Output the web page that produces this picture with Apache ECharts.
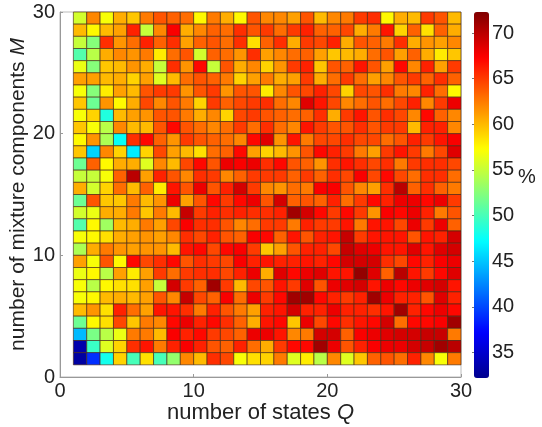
<!DOCTYPE html>
<html><head><meta charset="utf-8">
<style>html,body{margin:0;padding:0;background:#fff}#c{width:542px;height:427px}</style>
<script src="https://cdn.jsdelivr.net/npm/echarts@6/dist/echarts.min.js"></script>
</head><body><div id="c"></div>
<script>
// Cell values in %, rows listed from M=29 (top) down to M=1; columns Q=1..29
const rowM29=[55.5,62,57,60.5,59.5,62.5,64,63.5,63,57.5,62.5,60.5,57.5,64,62,62,61,64,60,62,62.5,65,65.5,57.5,60.5,60,65,64,60];
const rowM28=[60,57.5,60,61,66,55,62,67.5,60.5,62,63.5,63,65.5,64,65,63,65,66,63.5,63.5,64.5,60.5,62.5,66.5,59,63.5,58.5,63.5,60.5];
const rowM27=[55,52.5,65.5,61.5,63,66,63.5,65.5,61,63.5,64,63,65.5,58.5,63.5,65.5,60.5,65,64.5,66,60.5,64,63.5,62.5,65.5,60.5,61.5,61,62];
const rowM26=[50.5,54.5,60.5,62,61.5,62.5,58,63,64,55.5,63.5,63,61.5,65.5,61,62,63,63.5,61,59.5,60,60.5,63,64,61,63.5,60.5,58,59.5];
const rowM25=[56.5,52.5,59.5,60,61.5,60.5,55,65.5,61.5,67,55,64,60.5,62,59,61.5,65,66,59.5,64,63.5,66.5,64,61,67,62,66,61,65];
const rowM24=[61,61,60,60.5,59,61,56,60,63,64,63.5,62.5,59,61,62.5,60.5,61,65,60.5,63,65,63,61,62,64,65,63.5,65.5,63.5];
const rowM23=[57,52.5,58,61,60,64,65,65,61.5,64,65,61.5,64,64,58,62,64,64.5,66,64.5,59,64.5,64,65.5,62.5,62,66,63,57.5];
const rowM22=[59.5,51.5,61.5,57.5,60.5,64.5,62,64,62.5,59,65,63.5,64.5,65,65.5,63,62,68.5,66.5,64.5,62,63,64,63,64.5,66,62,65,68];
const rowM21=[57,59,48.5,60,61,61.5,64,64,62.5,60.5,62,59,64.5,65,64,63.5,63,63.5,65.5,60.5,65,66.5,64,65.5,64.5,62,67,63.5,62];
const rowM20=[59.5,57,54.5,62,60,60,64,67,64,63,62,63,65,63,65.5,63,62,66.5,65,64,64,65.5,64,65,65,60,66,66,62];
const rowM19=[57.5,61.5,54,47.5,65.5,67,63.5,61.5,65,64,63.5,63,62,67,68.5,61.5,66.5,62.5,64.5,64.5,65.5,64.5,64.5,63,64,66,65,66.5,67.5];
const rowM18=[59.5,45.5,62,59,46.5,59,64.5,61,60,58.5,63,63.5,67,61,59,60,61.5,64,67,66,65,62.5,61,65,66.5,65,62.5,64.5,68.5];
const rowM17=[51.5,63.5,57.5,60.5,60.5,56,62,60,64.5,67,64,68,67.5,68,65.5,67,64,63.5,61.5,65.5,66.5,65.5,64.5,65.5,62.5,65,65.5,65.5,64.5];
const rowM16=[55,55,57,63.5,70,61,66,64,62,65.5,65,62,63.5,65,65,65,63.5,65,63.5,65.5,64.5,67.5,64.5,67,64.5,63,65.5,65.5,63];
const rowM15=[60.5,55.5,59,63,60,63.5,58,66.5,64,68,64,66,69,65,62,61.5,63,62.5,67.5,67.5,64,62,61,65.5,70,63.5,65.5,63.5,62.5];
const rowM14=[51.5,64,59.5,59.5,62.5,60,61.5,68,61,64,67,65,67,68,64,69,63.5,64,63.5,66,63,65,67,66,68,68,67,68,65];
const rowM13=[55.5,56.5,60.5,60.5,62.5,59.5,62.5,60,69.5,65,66,65.5,66,65.5,65.5,66,71,69,67,65,67,65,61.5,67.5,67,68,66,62.5,64];
const rowM12=[50.5,57.5,53.5,60,60.5,62.5,61,64.5,67.5,65.5,65.5,64,62,63,65,65,62.5,66,65,65,66.5,62.5,66.5,66.5,64.5,68,65,68,63.5];
const rowM11=[57,57.5,58.5,60.5,61,61.5,61,62,65.5,64.5,66,64,63.5,67.5,67,63.5,66.5,64,66,66.5,69.5,65,66.5,66.5,66.5,64,66.5,66,69];
const rowM10=[54,60.5,62.5,61.5,61,61.5,61.5,60,66.5,67,64.5,67,67.5,65,59.5,61,64,66,66,64.5,69.5,68.5,68,66.5,66.5,68.5,66.5,68.5,69];
const rowM9=[61,57,64,57.5,67,64.5,65.5,67,64,65.5,65,64.5,67.5,66,66.5,66,66,66.5,66,67,69,69,69,65.5,64.5,67,66,67.5,68];
const rowM8=[56.5,57.5,54.5,61,58,61,65,63,65,65.5,65.5,64.5,66,68,60.5,68.5,67,68,68.5,66.5,66.5,71.5,68.5,63.5,70,66.5,65,67,68.5];
const rowM7=[57,54.5,57.5,58.5,58.5,61,55,69,65,63.5,71,65,60,64.5,64,66.5,65,68.5,64,68,68.5,69,66.5,68,67,68,68.5,69,66.5];
const rowM6=[57,57.5,60,60.5,60,61,64,62,69.5,64.5,63.5,67.5,63,68,65,67,71,71,67,66,65,66,71,68,66,66,64,68.5,66];
const rowM5=[60,61.5,58.5,66,63,61,66.5,66.5,65.5,62.5,66,64,62.5,61,66,66.5,69,66,66,68,66,66,65.5,66.5,71,66,67,68,67];
const rowM4=[51.5,57.5,58.5,64.5,59.5,62.5,62,67,68,66,67,65.5,63.5,60.5,66.5,67,59.5,68,64.5,67,65.5,66.5,67,69,63,67,67,67.5,71];
const rowM3=[44.5,52,54.5,56.5,62.5,62.5,60,67.5,66,67,65,64.5,63.5,68,68,66.5,62,62.5,69,69,63.5,67.5,68,68.5,69,69,69.5,69.5,62.5];
const rowM2=[33.5,49.5,56,59,65.5,66.5,62.5,66,67.5,66,64,63.5,66,63,60.5,65,67,67,71,68,64,66,67.5,68,68,69,69.5,71,70];
const rowM1=[33,39,48,59,50,58.5,50,53,62,60,65.5,64.5,57,58.5,59,62.5,56,58,54.5,62,56,59.5,63.5,64,63,66,62,57,62.5];
const rowsTopDown=[rowM29,rowM28,rowM27,rowM26,rowM25,rowM24,rowM23,rowM22,rowM21,rowM20,rowM19,rowM18,rowM17,rowM16,rowM15,rowM14,rowM13,rowM12,rowM11,rowM10,rowM9,rowM8,rowM7,rowM6,rowM5,rowM4,rowM3,rowM2,rowM1];
const colorbarTicks=[35,40,45,50,55,60,65,70];
const jetColors=['#00008f','#0000ff','#0080ff','#00ffff','#80ff80','#ffff00','#ff8000','#ff0000','#800000'];

const cells=[];
rowsTopDown.forEach((row,r)=>row.forEach((v,c)=>cells.push([c+1,29-r,v])));
const font='"Liberation Sans",Arial,sans-serif', ink='#222';
const chart=echarts.init(document.getElementById('c'),null,{renderer:'canvas'});
chart.setOption({
  animation:false,
  backgroundColor:'#fff',
  grid:[
    {left:60,right:81,top:12,bottom:50,show:true,borderColor:'#bbb',borderWidth:1,backgroundColor:'transparent',outerBoundsMode:'none'},
    {left:474,width:15,top:12,height:366,show:false,outerBoundsMode:'none'}
  ],
  xAxis:[
    {gridIndex:0,type:'value',min:0,max:30,interval:10,
     axisLine:{show:true,lineStyle:{color:'#999',width:1}},
     axisTick:{show:true,inside:true,length:3,lineStyle:{color:'#999'}},
     splitLine:{show:false},
     axisLabel:{color:ink,fontFamily:font,fontSize:20,margin:4},
     name:'number of states {i|Q}',nameLocation:'middle',nameGap:25,nameMoveOverlap:false,
     nameTextStyle:{color:ink,fontFamily:font,fontSize:22,rich:{i:{fontStyle:'italic',fontFamily:font,fontSize:22,color:ink}}}},
    {gridIndex:1,type:'value',min:0,max:1,show:false}
  ],
  yAxis:[
    {gridIndex:0,type:'value',min:0,max:30,interval:10,
     axisLine:{show:true,lineStyle:{color:'#999',width:1}},
     axisTick:{show:true,inside:true,length:3,lineStyle:{color:'#999'}},
     splitLine:{show:false},
     axisLabel:{color:ink,fontFamily:font,fontSize:20,margin:5},
     name:'number of mixture components {i|M}',nameLocation:'middle',nameGap:31,nameMoveOverlap:false,
     nameTextStyle:{color:ink,fontFamily:font,fontSize:21,rich:{i:{fontStyle:'italic',fontFamily:font,fontSize:21,color:ink}}}},
    {gridIndex:1,type:'value',min:32.2,max:72.3,position:'right',
     axisLine:{show:false},
     axisTick:{show:true,inside:true,length:2,lineStyle:{color:'#777'},customValues:colorbarTicks},
     splitLine:{show:false},
     axisLabel:{color:ink,fontFamily:font,fontSize:20,margin:3,customValues:colorbarTicks}}
  ],
  visualMap:{type:'continuous',min:32.2,max:72.3,seriesIndex:0,dimension:2,
    left:474,top:12,padding:0,itemWidth:15,itemHeight:366,
    calculable:false,showLabel:false,text:null,hoverLink:false,
    inRange:{color:jetColors},borderColor:'transparent'},
  graphic:[{type:'text',left:518,top:167,style:{text:'%',font:'20px '+font,fill:ink}}],
  series:[{
    type:'custom',xAxisIndex:0,yAxisIndex:0,data:cells,
    encode:{x:0,y:1},clip:false,silent:true,
    renderItem:(params,api)=>{
      const p0=api.coord([api.value(0),api.value(1)+1]);
      const p1=api.coord([api.value(0)+1,api.value(1)]);
      return {type:'rect',shape:{x:p0[0],y:p0[1],width:p1[0]-p0[0],height:p1[1]-p0[1]},
        style:{fill:api.visual('color'),stroke:'rgba(70,40,20,0.8)',lineWidth:0.8}};
    }
  }]
});
</script></body></html>
